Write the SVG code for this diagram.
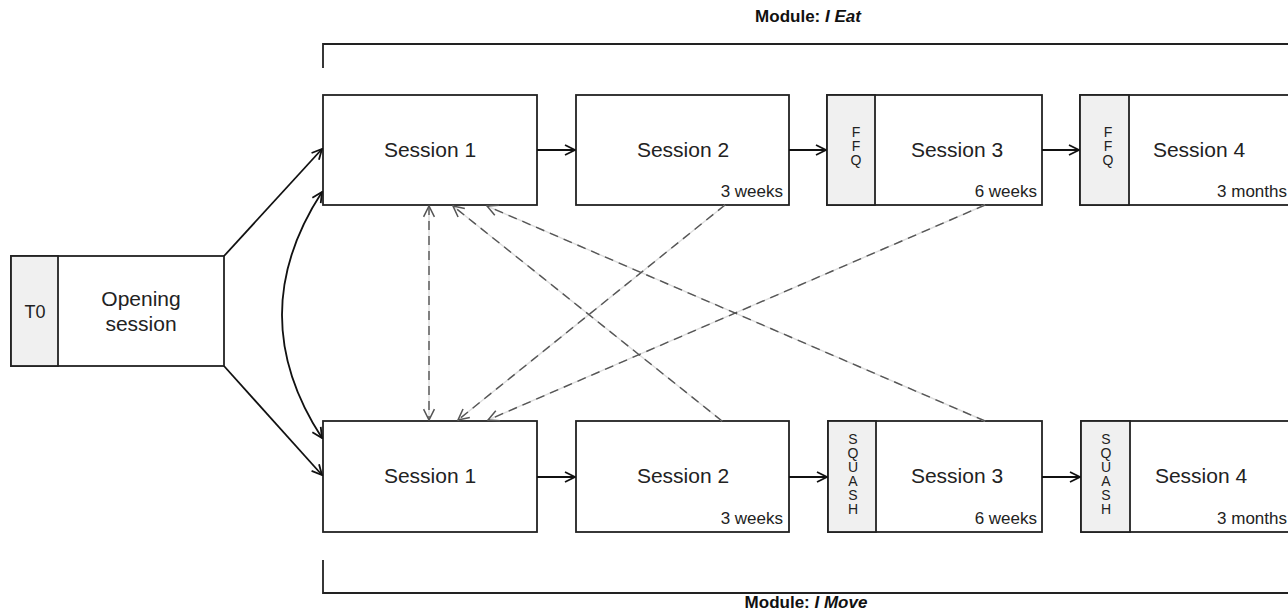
<svg xmlns="http://www.w3.org/2000/svg" width="1288" height="610" viewBox="0 0 1288 610">
<style>
.box{fill:#fff;stroke:#222;stroke-width:1.8}
.strip{fill:#f0f0f0;stroke:#222;stroke-width:1.8}
.t{font-family:"Liberation Sans",Arial,sans-serif;font-size:21px;fill:#222;text-anchor:middle}
.s{font-family:"Liberation Sans",Arial,sans-serif;font-size:17px;fill:#222;text-anchor:end}
.v{font-family:"Liberation Sans",Arial,sans-serif;font-size:14px;fill:#222;text-anchor:middle}
.m{font-family:"Liberation Sans",Arial,sans-serif;font-size:17px;font-weight:bold;fill:#111;text-anchor:middle}
.c{fill:none;stroke:#111;stroke-width:1.8}
.under{fill:none;stroke:#ddd;stroke-width:1.4}
.d{fill:none;stroke:#555;stroke-width:1.4;stroke-dasharray:9 6}
.br{fill:none;stroke:#222;stroke-width:1.8}
</style>
<defs>
<marker id="ah" viewBox="0 0 12 12" refX="11" refY="6" markerWidth="12" markerHeight="12" markerUnits="userSpaceOnUse" orient="auto-start-reverse">
<path d="M1,1 L11,6 L1,11" fill="none" stroke="#111" stroke-width="1.8"/>
</marker>
<marker id="dh" viewBox="0 0 12 12" refX="11" refY="6" markerWidth="13" markerHeight="13" markerUnits="userSpaceOnUse" orient="auto-start-reverse">
<path d="M1,1 L11,6 L1,11" fill="none" stroke="#555" stroke-width="1.4"/>
</marker>
</defs>

<g id="module-eat">
<text class="m" x="808" y="22">Module: <tspan font-style="italic">I Eat</tspan></text>
<path class="br" d="M323,68 V44 H1290"/>
</g>
<g id="module-move">
<path class="br" d="M323,560 V593 H1290"/>
<text class="m" x="806" y="608">Module: <tspan font-style="italic">I Move</tspan></text>
</g>

<g id="opening">
<rect class="box" x="11" y="256" width="213" height="110"/>
<rect class="strip" x="11" y="256" width="47" height="110"/>
<text class="t" x="35" y="318" style="font-size:18px">T0</text>
<text class="t" x="141" y="306">Opening</text>
<text class="t" x="141" y="331">session</text>
</g>

<g id="eat-s1">
<rect class="box" x="323" y="95" width="214" height="110"/>
<text class="t" x="430" y="157">Session 1</text>
</g>
<g id="eat-s2">
<rect class="box" x="576" y="95" width="213" height="110"/>
<text class="t" x="683" y="157">Session 2</text>
<text class="s" x="783" y="197">3 weeks</text>
</g>
<g id="eat-s3">
<rect class="box" x="827" y="95" width="215" height="110"/>
<rect class="strip" x="827" y="95" width="48" height="110"/>
<text class="v" x="856" y="137">F</text>
<text class="v" x="856" y="151">F</text>
<text class="v" x="856" y="165">Q</text>
<text class="t" x="957" y="157">Session 3</text>
<text class="s" x="1037" y="197">6 weeks</text>
</g>
<g id="eat-s4">
<rect class="box" x="1080" y="95" width="220" height="110"/>
<rect class="strip" x="1080" y="95" width="49" height="110"/>
<text class="v" x="1108" y="137">F</text>
<text class="v" x="1108" y="151">F</text>
<text class="v" x="1108" y="165">Q</text>
<text class="t" x="1199" y="157">Session 4</text>
<text class="s" x="1287" y="197">3 months</text>
</g>

<g id="move-s1">
<rect class="box" x="323" y="421" width="214" height="111"/>
<text class="t" x="430" y="483">Session 1</text>
</g>
<g id="move-s2">
<rect class="box" x="576" y="421" width="213" height="111"/>
<text class="t" x="683" y="483">Session 2</text>
<text class="s" x="783" y="524">3 weeks</text>
</g>
<g id="move-s3">
<rect class="box" x="828" y="421" width="214" height="111"/>
<rect class="strip" x="828" y="421" width="48" height="111"/>
<text class="v" x="853" y="444">S</text>
<text class="v" x="853" y="458">Q</text>
<text class="v" x="853" y="472">U</text>
<text class="v" x="853" y="486">A</text>
<text class="v" x="853" y="500">S</text>
<text class="v" x="853" y="514">H</text>
<text class="t" x="957" y="483">Session 3</text>
<text class="s" x="1037" y="524">6 weeks</text>
</g>
<g id="move-s4">
<rect class="box" x="1081" y="421" width="220" height="111"/>
<rect class="strip" x="1081" y="421" width="49" height="111"/>
<text class="v" x="1106" y="444">S</text>
<text class="v" x="1106" y="458">Q</text>
<text class="v" x="1106" y="472">U</text>
<text class="v" x="1106" y="486">A</text>
<text class="v" x="1106" y="500">S</text>
<text class="v" x="1106" y="514">H</text>
<text class="t" x="1201" y="483">Session 4</text>
<text class="s" x="1287" y="524">3 months</text>
</g>

<g id="connectors">
<path class="c" d="M224,256 L322,149" marker-end="url(#ah)"/>
<path class="c" d="M224,366 L322,475" marker-end="url(#ah)"/>
<path class="c" d="M322,192 Q242,315 322,438" marker-start="url(#ah)" marker-end="url(#ah)"/>
<path class="c" d="M537,150 H575" marker-end="url(#ah)"/>
<path class="c" d="M789,150 H826" marker-end="url(#ah)"/>
<path class="c" d="M1042,150 H1079" marker-end="url(#ah)"/>
<path class="c" d="M537,477 H575" marker-end="url(#ah)"/>
<path class="c" d="M789,477 H827" marker-end="url(#ah)"/>
<path class="c" d="M1042,477 H1080" marker-end="url(#ah)"/>

<path class="under" d="M429,206 V420"/>
<path class="under" d="M722,421 L453,206"/>
<path class="under" d="M985,421 L487,206"/>
<path class="under" d="M725,205 L458,420"/>
<path class="under" d="M985,205 L488,420"/>
<path class="d" d="M429,206 V420" marker-start="url(#dh)" marker-end="url(#dh)"/>
<path class="d" d="M722,421 L453,206" marker-end="url(#dh)"/>
<path class="d" d="M985,421 L487,206" marker-end="url(#dh)"/>
<path class="d" d="M725,205 L458,420" marker-end="url(#dh)"/>
<path class="d" d="M985,205 L488,420" marker-end="url(#dh)"/>
</g>
</svg>
